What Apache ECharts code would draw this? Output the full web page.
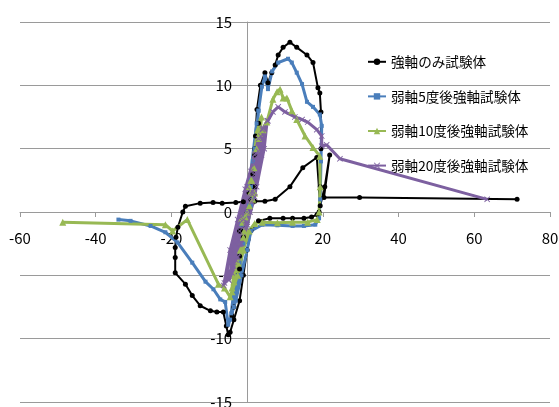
<!DOCTYPE html>
<html>
<head>
<meta charset="utf-8">
<script src="https://cdn.jsdelivr.net/npm/echarts@6/dist/echarts.min.js"></script>
<style>
  html, body { margin: 0; padding: 0; background: #fff; }
  #chart { width: 559px; height: 407px; }
</style>
</head>
<body>
<div id="chart"></div>
<script>
// Load–displacement hysteresis of four specimens (displacement, load)
const seriesNames = ['強軸のみ試験体', '弱軸5度後強軸試験体', '弱軸10度後強軸試験体', '弱軸20度後強軸試験体'];

const xTicks = { min: -60, max: 80, interval: 20 };
const yTicks = { min: -15, max: 15, interval: 5 };

const strongOnly = [
  [0, 0], [1, 2], [2, 4.5], [1, 1], [-1, -2], [-2, -4.5], [-1, -1],
  [1.5, 3], [3, 7], [2, 2], [-2, -3.5], [-3.5, -7.5], [-1.5, -1.5],
  [0.5, 1.5], [2.2, 6], [1.2, 1], [-2.5, -5], [-4, -8.2], [-2, -1.5],
  [1, 2], [2, 5], [2.6, 8.1], [3.5, 10], [4.7, 11], [5.5, 10.2], [6.5, 11],
  [7.4, 11.6], [8.2, 12.4], [9.5, 13], [11.3, 13.4], [13.1, 13], [15.8, 12.4],
  [17.4, 11.8], [18.7, 9.8], [19.2, 9.4], [19.5, 7.9], [19.5, 5], [19.3, 2],
  [19, 0], [18.5, -0.2], [17, -0.4], [15, -0.5], [12, -0.5], [9.5, -0.5],
  [6, -0.5], [3, -0.7], [1, -1.5],
  [0, -3], [-1, -5], [-2, -7], [-3.5, -8.5], [-4.5, -9.5], [-5, -9.7],
  [-5.5, -9], [-6.3, -7.9], [-8, -7.9], [-9.7, -7.8], [-12.4, -7.4],
  [-14.5, -6.6], [-16.3, -5.7], [-19, -4.8], [-19, -3.6], [-19, -2.8],
  [-18.8, -2], [-18.3, -1.2], [-17, 0], [-16.3, 0.45], [-12.4, 0.7],
  [-9, 0.75], [-6.6, 0.7], [-3, 0.75], [-1, 0.8], [2, 0.85], [4.7, 0.85],
  [7.4, 1], [11.3, 2], [14.7, 3.5], [18.4, 4.3], [19.3, 0.5], [20.5, 2],
  [21.8, 4.5], [20.3, 1.15], [29.7, 1.15], [71.3, 1.0]
];

const weak5 = [
  [0, 0], [1, 2.5], [2, 5], [0.5, 0.5], [-1, -2.5], [-2, -5], [-0.5, -0.5],
  [1.5, 4], [3, 8], [1.5, 1], [-2, -4], [-3.5, -7.5], [-1, -1],
  [0.5, 2], [2.5, 7], [1, 0.5], [-2.5, -5], [-4.2, -8], [-1.5, -1],
  [1, 2], [2, 5], [3, 8], [3.9, 9.9], [4.7, 10.7], [5.5, 9.7], [6.6, 11.1],
  [8.2, 11.8], [10.8, 12.1], [11.8, 11.8], [13.1, 11], [14.5, 10.1],
  [15.8, 8.7], [17.4, 8.3], [19.2, 7.7], [19.7, 6.8], [19.5, 4], [19.3, 1],
  [19, -0.5], [18, -1], [15, -1.1], [12, -1.1], [8, -1.05], [4, -1], [1, -1.5],
  [0, -3], [-1.5, -5], [-3, -7], [-4.5, -8.5], [-5, -8.9], [-5.8, -7.1],
  [-7.1, -6.9], [-8.9, -6.1], [-11, -5.5], [-14.5, -4], [-18.4, -2.4],
  [-21.6, -1.6], [-25.5, -1.1], [-30.8, -0.7], [-34, -0.6]
];

const weak10 = [
  [0, 0], [0.8, 1.5], [1.8, 3.5], [0.6, 0.5], [-0.8, -1.5], [-1.8, -3], [-0.5, -0.4],
  [1.2, 2.5], [2.5, 5], [3.2, 6.2], [1.5, 1], [-1, -2], [-2.5, -4], [-3.3, -5], [-1.2, -0.8],
  [0.5, 2], [2.8, 6.5], [3.8, 7.5], [2, 1.5], [-1.5, -3], [-3.5, -5.5], [-4, -6], [-1.5, -0.5],
  [1, 2.5], [3, 5.8], [4.2, 6.5], [5.2, 7.1], [6.8, 8.9], [7.9, 9.5], [8.7, 9.7],
  [9.5, 9.0], [10.5, 9.0], [11.8, 8.0], [13.1, 7.3], [15.3, 6.0], [17.4, 5.1],
  [19.2, 4.4], [19.3, 2], [19, 0], [18.5, -0.6], [16, -0.8], [12, -0.8],
  [8, -0.85], [4, -0.8], [2, -0.9], [0.5, -1.5],
  [-1, -3], [-2.5, -5], [-4, -6.3], [-4.5, -6.7], [-6, -6], [-7.6, -5.7],
  [-15.8, -0.6], [-19.7, -1.5], [-21.6, -1.0], [-48.7, -0.8]
];

const weak20 = [
  [0, 0], [1, 1.5], [2, 3], [1.2, 0.8], [-0.5, -1], [-1.8, -2.5], [-1, -0.6],
  [0.5, 1.2], [2.2, 3.8], [3, 4.8], [1.8, 1.5], [0, -0.8], [-2.5, -3.5], [-3.5, -4.3], [-2, -1.5],
  [0, 1.2], [2, 4.2], [3.6, 6], [2.5, 2.8], [0.8, 0], [-1.5, -2.5], [-4, -4.8], [-4.8, -5.4], [-3.2, -2.5],
  [-1.2, 0.2], [1, 3.2], [3, 5.8], [4.3, 6.6], [3.8, 4.5], [2, 1.2], [-0.2, -1.2], [-2.5, -3.6],
  [-5, -5.3], [-6, -5.6], [-4.2, -3.2],
  [-2, -0.5], [0, 2], [2.2, 4.6], [4.2, 6.6], [5.3, 7.2], [4.5, 5], [2.5, 2], [0, -1],
  [-3, -3.8], [-5.5, -5.2], [-6.2, -5.8], [-4.5, -3], [-2.5, -0.6],
  [-0.5, 1.8], [2, 4.5], [4, 6.5], [5.5, 7.2], [6.8, 7.9], [8.2, 8.3], [10, 7.9],
  [12.6, 7.5], [14.5, 7.3], [16, 7.1], [18.4, 6.5], [19.7, 6.0], [19.7, 5.2],
  [21, 5.3], [24.5, 4.2], [63.4, 1.0]
];

const FONT = '"Noto Sans CJK JP", "Noto Sans", sans-serif';
const GRID_GRAY = '#9a9a9a';
const CROSS = 'path://M0,1L1,0L5,4L9,0L10,1L6,5L10,9L9,10L5,6L1,10L0,9L4,5Z';

// plot box
const GRID = { left: 20, right: 9, top: 22, bottom: 5 };
const PLOT_W = 559 - GRID.left - GRID.right;
const PLOT_H = 407 - GRID.top - GRID.bottom;
// shift each axis (with its labels) onto the other axis' zero
const xAxisShift = -PLOT_H * (yTicks.min / (yTicks.min - yTicks.max));
const yAxisShift = -PLOT_W * (xTicks.min / (xTicks.min - xTicks.max));

function lineSeries(name, data, color, width, symbol, size) {
  return {
    name: name,
    type: 'line',
    data: data,
    symbol: symbol,
    symbolSize: size,
    showAllSymbol: true,
    animation: false,
    lineStyle: { color: color, width: width },
    itemStyle: { color: color, borderWidth: 0 },
    emphasis: { disabled: true }
  };
}

const chart = echarts.init(document.getElementById('chart'), null, { renderer: 'canvas' });
chart.setOption({
  backgroundColor: '#ffffff',
  animation: false,
  grid: { left: GRID.left, right: GRID.right, top: GRID.top, bottom: GRID.bottom,
          containLabel: false, outerBoundsMode: 'none' },
  legend: {
    orient: 'vertical',
    left: 367,
    top: 55,
    padding: 0,
    itemWidth: 18,
    itemHeight: 8,
    itemGap: 21,
    textStyle: { fontFamily: FONT, fontSize: 13.6, color: '#000' },
    data: seriesNames
  },
  xAxis: {
    type: 'value',
    position: 'bottom',
    offset: xAxisShift,
    min: xTicks.min, max: xTicks.max, interval: xTicks.interval,
    axisLine: { onZero: false, lineStyle: { color: GRID_GRAY, width: 1 } },
    axisTick: { show: true, length: 5, lineStyle: { color: GRID_GRAY } },
    axisLabel: { margin: 19, fontFamily: FONT, fontSize: 15, color: '#000' },
    splitLine: { show: false }
  },
  yAxis: {
    type: 'value',
    position: 'left',
    offset: yAxisShift,
    min: yTicks.min, max: yTicks.max, interval: yTicks.interval,
    axisLine: { show: true, onZero: false, lineStyle: { color: GRID_GRAY, width: 1 } },
    axisTick: { show: true, length: 5, lineStyle: { color: GRID_GRAY } },
    axisLabel: { margin: 15, fontFamily: FONT, fontSize: 15, color: '#000' },
    splitLine: { show: true, lineStyle: { color: GRID_GRAY, width: 1 } }
  },
  series: [
    lineSeries(seriesNames[0], strongOnly, '#000000', 2, 'circle', 5),
    lineSeries(seriesNames[1], weak5, '#4a7ebb', 3, 'rect', 4),
    lineSeries(seriesNames[2], weak10, '#98b954', 3, 'triangle', 7),
    lineSeries(seriesNames[3], weak20, '#7d60a0', 3, CROSS, 6)
  ]
});
</script>
</body>
</html>
